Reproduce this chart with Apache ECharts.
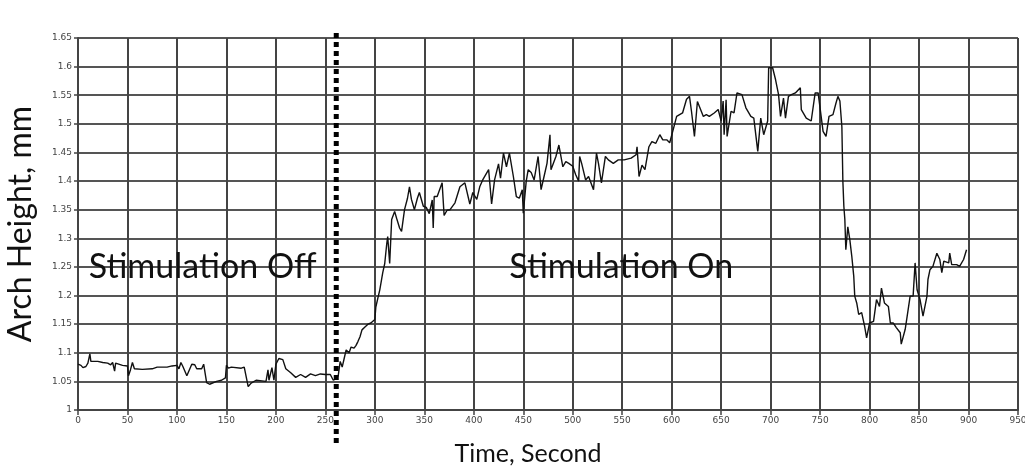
<!DOCTYPE html>
<html><head><meta charset="utf-8">
<script src="https://cdn.jsdelivr.net/npm/echarts@6/dist/echarts.min.js"></script>
<style>html,body{margin:0;padding:0;background:#fff}#c{width:1025px;height:470px}</style>
</head><body><div id="c"></div>
<script>
const timeSec = [0,3,5,8,10,12,13,20,25,30,33,35,37,38,40,45,50,51,53,55,57,65,75,80,90,95,100,102,104,106,110,112,115,118,120,125,127,130,133,140,145,149,150,152,155,165,168,170,172,175,180,190,192,193,196,198,200,203,207,210,215,220,225,230,235,240,245,250,255,258,261,
263,265,267,269,271,274,276,279,281,283,285,287,290,293,296,300,301,303,305,307,308,310,312,313,315,317,320,322,325,327,330,333,335,337,340,343,345,349,352,355,358,359,360,363,368,370,373,376,381,386,391,396,399,403,406,409,415,418,421,425,427,430,433,436,440,443,446,449,450,453,455,458,461,465,468,471,474,477,478,483,486,490,493,496,500,503,506,507,509,513,516,521,524,526,529,533,536,541,546,552,559,564,565,567,570,573,577,580,584,588,591,595,598,
602,605,608,611,615,618,620,623,626,628,632,635,638,643,647,650,652,653,655,656,660,663,666,671,675,680,683,687,690,693,697,698,702,705,708,710,713,715,718,721,725,730,731,736,741,745,748,750,753,756,759,763,766,768,770,772,773,774,775,776,778,780,782,784,785,787,789,792,795,797,800,804,807,810,812,815,819,821,824,827,831,832,836,838,841,844,846,848,851,854,858,859,861,864,868,870,871,873,875,880,881,883,888,891,895,898];
const archHeight = [1.080,1.078,1.074,1.076,1.082,1.098,1.085,1.085,1.083,1.082,1.079,1.083,1.068,1.082,1.084,1.078,1.077,1.060,1.070,1.083,1.072,1.071,1.072,1.075,1.075,1.077,1.078,1.072,1.083,1.076,1.060,1.058,1.080,1.079,1.072,1.072,1.080,1.048,1.045,1.050,1.052,1.056,1.078,1.073,1.075,1.073,1.075,1.075,1.041,1.047,1.052,1.050,1.070,1.052,1.074,1.052,1.080,1.090,1.088,1.072,1.065,1.057,1.062,1.057,1.063,1.060,1.063,1.062,1.062,1.052,1.055,
1.060,1.085,1.075,1.090,1.105,1.100,1.110,1.108,1.113,1.120,1.128,1.140,1.145,1.150,1.152,1.158,1.180,1.195,1.210,1.230,1.240,1.256,1.290,1.303,1.256,1.333,1.347,1.335,1.318,1.312,1.350,1.370,1.390,1.368,1.350,1.370,1.380,1.356,1.354,1.343,1.367,1.318,1.373,1.373,1.397,1.340,1.349,1.350,1.362,1.390,1.397,1.360,1.380,1.368,1.390,1.402,1.420,1.360,1.402,1.430,1.405,1.449,1.425,1.449,1.408,1.373,1.370,1.385,1.344,1.400,1.420,1.415,1.402,1.443,1.385,1.408,1.431,1.481,1.420,1.443,1.463,1.425,1.434,1.431,1.426,1.411,1.400,1.443,1.431,1.402,1.408,1.385,1.449,1.431,1.397,1.443,1.437,1.431,1.437,1.437,1.440,1.446,1.460,1.408,1.428,1.420,1.460,1.469,1.466,1.481,1.472,1.472,1.467,
1.493,1.513,1.516,1.519,1.543,1.548,1.522,1.478,1.539,1.542,1.513,1.516,1.513,1.519,1.525,1.505,1.540,1.481,1.542,1.478,1.522,1.519,1.554,1.551,1.528,1.513,1.510,1.452,1.510,1.481,1.505,1.598,1.598,1.577,1.551,1.513,1.545,1.510,1.548,1.551,1.554,1.563,1.525,1.510,1.505,1.554,1.554,1.551,1.487,1.478,1.513,1.516,1.536,1.548,1.540,1.495,1.400,1.356,1.333,1.280,1.320,1.298,1.269,1.234,1.199,1.187,1.167,1.170,1.146,1.126,1.152,1.155,1.193,1.181,1.213,1.187,1.181,1.152,1.152,1.144,1.135,1.115,1.141,1.164,1.199,1.199,1.257,1.210,1.193,1.164,1.199,1.228,1.245,1.251,1.274,1.277,1.263,1.240,1.260,1.257,1.274,1.254,1.254,1.251,1.263,1.280];
const stimulationStart = 261;
const labels = [{text:'Stimulation Off', t:126, v:1.25},{text:'Stimulation On', t:549, v:1.25}];

const chart = echarts.init(document.getElementById('c'));
const gridCol = '#444';
chart.setOption({
  animation:false,
  grid:{left:78,right:7,top:38,bottom:60,outerBoundsMode:'none',containLabel:false},
  xAxis:{type:'value',min:0,max:950,interval:50,
    name:'Time, Second',nameLocation:'middle',nameGap:31,
    nameTextStyle:{fontFamily:'Lato',fontSize:25,color:'#111',padding:[0,40,0,0]},
    axisLine:{lineStyle:{color:gridCol,width:2}},
    axisTick:{show:true,length:5,lineStyle:{color:gridCol,width:1.5}},
    axisLabel:{fontSize:9,color:'#444',fontFamily:'DejaVu Sans',margin:6},
    splitLine:{show:true,lineStyle:{color:gridCol,width:2}}},
  yAxis:{type:'value',min:1,max:1.65,interval:0.05,
    name:'Arch Height, mm',nameLocation:'middle',nameGap:41,
    nameTextStyle:{fontFamily:'Lato',fontSize:32,color:'#111'},
    axisLine:{show:true,lineStyle:{color:gridCol,width:2}},
    axisTick:{show:true,length:4,lineStyle:{color:gridCol,width:1.5}},
    axisLabel:{fontSize:9,color:'#444',fontFamily:'DejaVu Sans',margin:6},
    splitLine:{show:true,lineStyle:{color:'#555',width:2}}},
  series:[{type:'line',data:timeSec.map((t,i)=>[t,archHeight[i]]),
    showSymbol:false,lineStyle:{color:'#111',width:1.4},z:5}]
});
const xp = chart.convertToPixel({xAxisIndex:0}, stimulationStart);
const g = [{type:'line',shape:{x1:xp,y1:33,x2:xp,y2:447},
  style:{stroke:'#000',lineWidth:5,lineDash:[5,4]},z:10}];
labels.forEach(l=>{
  const p = chart.convertToPixel({gridIndex:0},[l.t,l.v]);
  g.push({type:'text',x:p[0],y:p[1],z:10,style:{text:l.text,font:'34px Lato',fill:'#111',align:'center',verticalAlign:'middle'}});
});
chart.setOption({graphic:g});
</script></body></html>
